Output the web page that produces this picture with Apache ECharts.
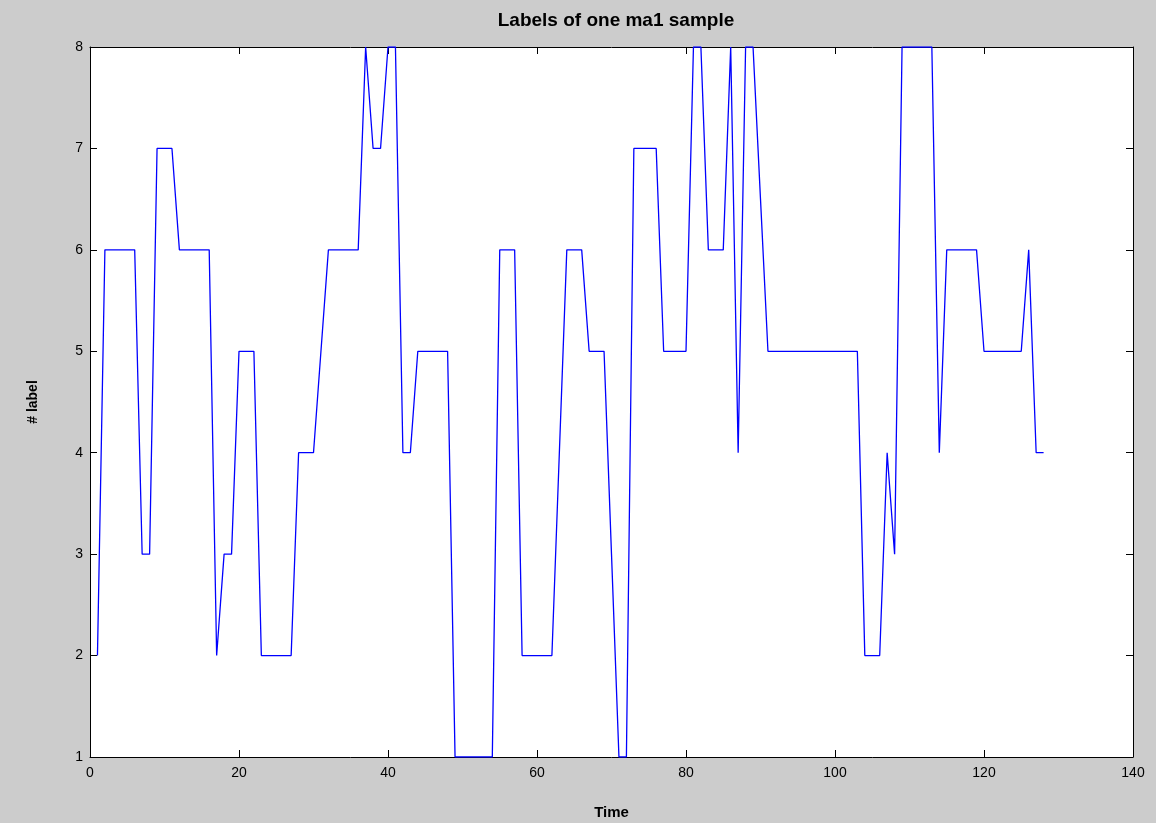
<!DOCTYPE html>
<html>
<head>
<meta charset="utf-8">
<script src="https://cdn.jsdelivr.net/npm/echarts@6/dist/echarts.min.js"></script>
<style>
  html, body { margin: 0; padding: 0; background: #cccccc; }
  #chart { width: 1156px; height: 823px; }
</style>
</head>
<body>
<div id="chart"></div>
<script>
  // label for time steps 1..128
  const labels = [
    2, 6, 6, 6, 6, 6, 3, 3, 7, 7,
    7, 6, 6, 6, 6, 6, 2, 3, 3, 5,
    5, 5, 2, 2, 2, 2, 2, 4, 4, 4,
    5, 6, 6, 6, 6, 6, 8, 7, 7, 8,
    8, 4, 4, 5, 5, 5, 5, 5, 1, 1,
    1, 1, 1, 1, 6, 6, 6, 2, 2, 2,
    2, 2, 4, 6, 6, 6, 5, 5, 5, 3,
    1, 1, 7, 7, 7, 7, 5, 5, 5, 5,
    8, 8, 6, 6, 6, 8, 4, 8, 8, 6.5,
    5, 5, 5, 5, 5, 5, 5, 5, 5, 5,
    5, 5, 5, 2, 2, 2, 4, 3, 8, 8,
    8, 8, 8, 4, 6, 6, 6, 6, 6, 5,
    5, 5, 5, 5, 5, 6, 4, 4
  ];
  const times = labels.map((_, i) => i + 1);
  const xTicks = [0, 20, 40, 60, 80, 100, 120, 140];
  const yTicks = [1, 2, 3, 4, 5, 6, 7, 8];

  const FONT = "'Liberation Sans', Arial, sans-serif";
  const chart = echarts.init(document.getElementById("chart"));

  const tickInside = { show: true, inside: true, length: 7, lineStyle: { color: "#000", width: 1 } };
  const axisLine = { show: true, onZero: false, lineStyle: { color: "#000", width: 1 } };
  const tickLabel = { color: "#000", fontFamily: FONT, fontSize: 14 };

  chart.setOption({
    backgroundColor: "#cccccc",
    animation: false,
    title: {
      text: "Labels of one ma1 sample",
      left: 611,
      top: 6,
      textAlign: "center",
      textStyle: { fontFamily: FONT, fontSize: 19, fontWeight: "bold", color: "#000" },
    },
    grid: {
      left: 90, right: 23, top: 47, bottom: 66,
      outerBoundsMode: "none", containLabel: false,
      show: true, backgroundColor: "#fff", borderWidth: 0,
    },
    xAxis: [
      {
        type: "value",
        min: xTicks[0],
        max: xTicks[xTicks.length - 1],
        interval: 20,
        position: "bottom",
        name: "Time",
        nameLocation: "middle",
        nameGap: 48,
        nameTextStyle: { fontFamily: FONT, fontSize: 15, fontWeight: "bold", color: "#000" },
        axisLine,
        axisTick: tickInside,
        axisLabel: { ...tickLabel, margin: 9 },
        splitLine: { show: false },
      },
      {
        type: "value",
        min: xTicks[0],
        max: xTicks[xTicks.length - 1],
        interval: 20,
        position: "top",
        axisLine,
        axisTick: tickInside,
        axisLabel: { show: false },
        splitLine: { show: false },
      },
    ],
    yAxis: [
      {
        type: "value",
        min: yTicks[0],
        max: yTicks[yTicks.length - 1],
        interval: 1,
        position: "left",
        name: "# label",
        nameLocation: "middle",
        nameRotate: 90,
        nameGap: 50,
        nameTextStyle: { fontFamily: FONT, fontSize: 14, fontWeight: "bold", color: "#000" },
        axisLine,
        axisTick: tickInside,
        axisLabel: { ...tickLabel, margin: 7 },
        splitLine: { show: false },
      },
      {
        type: "value",
        min: yTicks[0],
        max: yTicks[yTicks.length - 1],
        interval: 1,
        position: "right",
        axisLine,
        axisTick: tickInside,
        axisLabel: { show: false },
        splitLine: { show: false },
      },
    ],
    series: [
      {
        type: "line",
        data: times.map((t, i) => [t, labels[i]]),
        showSymbol: false,
        lineStyle: { color: "#0000ff", width: 1.3 },
        itemStyle: { color: "#0000ff" },
        clip: true,
      },
    ],
  });
</script>
</body>
</html>
